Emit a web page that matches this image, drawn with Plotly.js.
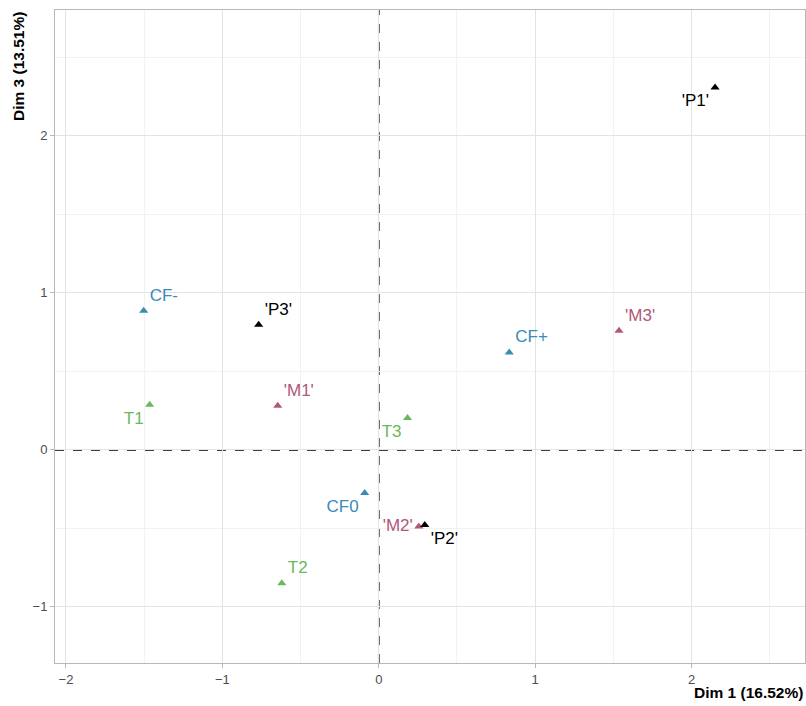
<!DOCTYPE html>
<html>
<head>
<meta charset="utf-8">
<script src="https://cdn.plot.ly/plotly-3.0.1.min.js"></script>
<style>html,body{margin:0;padding:0;background:#fff;}#chart{width:806px;height:706px;}</style>
</head>
<body>
<div id="chart"></div>
<script>
// Data
const cfLabels = ["CF-", "CF+", "CF0"];
const cfX = [-1.503, 0.834, -0.09];
const cfY = [0.885, 0.62, -0.274];

const tLabels = ["T1", "T2", "T3"];
const tX = [-1.465, -0.62, 0.184];
const tY = [0.287, -0.85, 0.202];

const mLabels = ["'M1'", "'M2'", "'M3'"];
const mX = [-0.646, 0.256, 1.536];
const mY = [0.28, -0.488, 0.758];

const pLabels = ["'P1'", "'P2'", "'P3'"];
const pX = [2.15, 0.294, -0.768];
const pY = [2.306, -0.478, 0.796];

const xTitle = "Dim 1 (16.52%)";
const yTitle = "Dim 3 (13.51%)";

// label placement (style)
const placement = {
  "CF-": "top right", "CF+": "top right", "CF0": "bottom left",
  "T1": "bottom left", "T2": "top right", "T3": "bottom left",
  "'M1'": "top right", "'M2'": "middle left", "'M3'": "top right",
  "'P1'": "bottom left", "'P2'": "bottom right", "'P3'": "top right"
};

function trace(labels, xs, ys, color) {
  return {
    type: "scatter", mode: "markers+text",
    x: xs, y: ys, text: labels,
    textposition: labels.map(l => placement[l]),
    textfont: {family: "Liberation Sans, Arial, sans-serif", size: 17, color: color},
    marker: {symbol: "triangle-up", size: 8, color: color},
    cliponaxis: false, hoverinfo: "skip", showlegend: false
  };
}

const data = [
  trace(cfLabels, cfX, cfY, "#3a8bb8"),
  trace(tLabels, tX, tY, "#6cb85c"),
  trace(mLabels, mX, mY, "#b0587a"),
  trace(pLabels, pX, pY, "#000000")
];

const axisCommon = {
  showgrid: true, gridcolor: "#e3e3e3", gridwidth: 1,
  minor: {showgrid: true, gridcolor: "#f2f2f2", gridwidth: 1, dtick: 0.5},
  zeroline: false, showline: true, mirror: true, linecolor: "#b8b8b8", linewidth: 1,
  ticks: "outside", ticklen: 4, tickcolor: "#b8b8b8",
  tickfont: {family: "Liberation Sans, Arial, sans-serif", size: 13, color: "#4d4d4d"},
  dtick: 1
};

const layout = {
  width: 806, height: 706,
  margin: {l: 55, r: 1, t: 10, b: 43},
  paper_bgcolor: "#fff", plot_bgcolor: "#fff",
  xaxis: Object.assign({}, axisCommon, {range: [-2.07, 2.725], tick0: 0}),
  yaxis: Object.assign({}, axisCommon, {range: [-1.357, 2.80], tick0: 0}),
  shapes: [
    {type: "line", xref: "x", yref: "paper", x0: 0, x1: 0, y0: 0, y1: 1,
     line: {color: "#000", width: 1.6, dash: "dash"}, layer: "below"},
    {type: "line", xref: "paper", yref: "y", x0: 0, x1: 1, y0: 0, y1: 0,
     line: {color: "#000", width: 1.6, dash: "dash"}, layer: "below"}
  ],
  annotations: [
    {text: "<b>" + xTitle + "</b>", xref: "paper", yref: "paper", x: 1, y: 0,
     xanchor: "right", yanchor: "top", yshift: -19, showarrow: false,
     font: {family: "Liberation Sans, Arial, sans-serif", size: 15.5, color: "#000"}},
    {text: "<b>" + yTitle + "</b>", xref: "paper", yref: "paper", x: 0, y: 1,
     xanchor: "right", yanchor: "top", xshift: -26, textangle: -90, showarrow: false,
     font: {family: "Liberation Sans, Arial, sans-serif", size: 15.5, color: "#000"}}
  ]
};

Plotly.newPlot("chart", data, layout, {displayModeBar: false, staticPlot: true});
</script>
</body>
</html>
